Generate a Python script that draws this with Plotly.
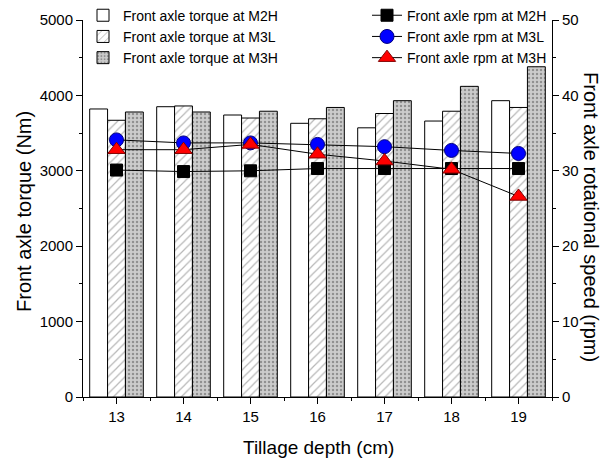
import plotly.graph_objects as go

depth = [13, 14, 15, 16, 17, 18, 19]
torque_m2h = [3820, 3850, 3740, 3630, 3570, 3660, 3930]
torque_m3l = [3670, 3860, 3700, 3690, 3760, 3790, 3840]
torque_m3h = [3780, 3780, 3790, 3840, 3930, 4120, 4380]
rpm_m2h = [30.1, 29.9, 30.0, 30.3, 30.3, 30.3, 30.3]
rpm_m3l = [34.1, 33.7, 33.7, 33.5, 33.2, 32.7, 32.3]
rpm_m3h = [32.8, 32.8, 33.5, 32.2, 31.3, 30.2, 26.6]

FONT = "Liberation Sans, Arial, sans-serif"
L, R, T, B = 83, 53, 20, 64
PW = 605 - L - R
PH = 461 - T - B

fig = go.Figure()
fig.add_trace(go.Bar(x=depth, y=torque_m2h, name="Front axle torque at M2H",
                     marker=dict(color="white", line=dict(color="black", width=1)),
                     legend="legend"))
fig.add_trace(go.Bar(x=depth, y=torque_m3l, name="Front axle torque at M3L",
                     marker=dict(color="white", line=dict(color="black", width=1),
                                 pattern=dict(shape="/", fgcolor="#707070", bgcolor="white",
                                              size=6, solidity=0.2)),
                     legend="legend"))
fig.add_trace(go.Bar(x=depth, y=torque_m3h, name="Front axle torque at M3H",
                     marker=dict(color="#c0c0c0", line=dict(color="black", width=1),
                                 pattern=dict(shape=".", fgcolor="#555555", bgcolor="#cccccc",
                                              size=4, solidity=0.3)),
                     legend="legend"))

fig.add_trace(go.Scatter(x=depth, y=rpm_m2h, name="Front axle rpm at M2H", yaxis="y2",
                         mode="lines+markers", line=dict(color="black", width=1),
                         marker=dict(symbol="square", size=12, color="black",
                                     line=dict(color="black", width=1)),
                         legend="legend2"))
fig.add_trace(go.Scatter(x=depth, y=rpm_m3l, name="Front axle rpm at M3L", yaxis="y2",
                         mode="lines+markers", line=dict(color="black", width=1),
                         marker=dict(symbol="circle", size=14, color="#0000ff",
                                     line=dict(color="#000080", width=1)),
                         legend="legend2"))
fig.add_trace(go.Scatter(x=depth, y=rpm_m3h, name="Front axle rpm at M3H", yaxis="y2",
                         mode="lines+markers", line=dict(color="black", width=1),
                         marker=dict(symbol="triangle-up", size=15, color="#ff0000",
                                     line=dict(color="#800000", width=1)),
                         legend="legend2"))

axis_common = dict(showline=True, linecolor="black", linewidth=1,
                   ticks="outside", ticklen=6, tickcolor="black", tickwidth=1,
                   showgrid=False, zeroline=False, tickfont=dict(size=15))

fig.update_layout(
    width=605, height=461,
    margin=dict(l=L, r=R, t=T, b=B, autoexpand=False),
    paper_bgcolor="white", plot_bgcolor="white",
    font=dict(family=FONT, size=15, color="black"),
    barmode="group", bargap=0.2, bargroupgap=0,
    xaxis=dict(range=[12.5, 19.5], tickmode="linear", tick0=13, dtick=1,
               minor=dict(dtick=0.5, ticks="outside", ticklen=3, tickcolor="black"),
               **axis_common),
    yaxis=dict(range=[0, 5000], tickmode="linear", tick0=0, dtick=1000,
               minor=dict(dtick=500, ticks="outside", ticklen=3, tickcolor="black"),
               **axis_common),
    yaxis2=dict(range=[0, 50], tickmode="linear", tick0=0, dtick=10,
                overlaying="y", side="right",
                minor=dict(dtick=5, ticks="outside", ticklen=3, tickcolor="black"),
                **axis_common),
    legend=dict(x=0.0, y=1.054, xanchor="left", yanchor="top", bgcolor="rgba(0,0,0,0)",
                font=dict(size=14), tracegroupgap=0, traceorder="normal"),
    legend2=dict(x=1.0, y=1.054, xanchor="right", yanchor="top", bgcolor="rgba(0,0,0,0)",
                 font=dict(size=14), tracegroupgap=0, traceorder="normal"),
    showlegend=True,
    annotations=[
        dict(text="Tillage depth (cm)", xref="paper", yref="paper",
             x=(318 - L) / PW, y=(461 - B - 447) / PH, xanchor="center", yanchor="middle",
             showarrow=False, font=dict(size=19)),
        dict(text="Front axle torque (Nm)", xref="paper", yref="paper", textangle=-90,
             x=(24 - L) / PW, y=(461 - B - 212) / PH, xanchor="center", yanchor="middle",
             showarrow=False, font=dict(size=20)),
        dict(text="Front axle rotational speed (rpm)", xref="paper", yref="paper", textangle=90,
             x=(591 - L) / PW, y=(461 - B - 217) / PH, xanchor="center", yanchor="middle",
             showarrow=False, font=dict(size=20)),
    ],
)

fig.write_html("out.html")
